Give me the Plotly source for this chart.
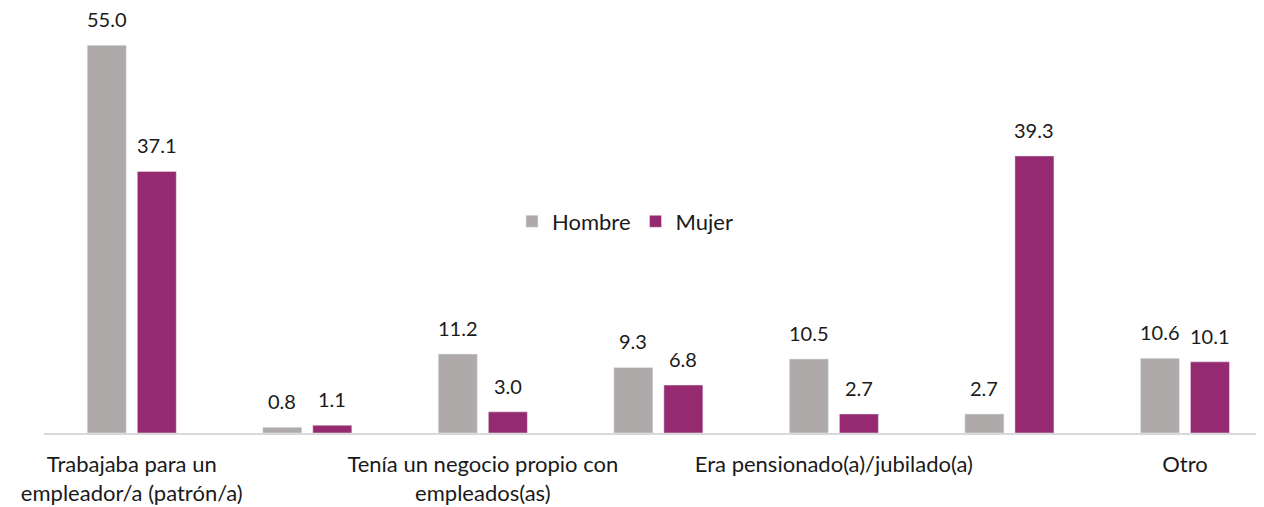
import plotly.graph_objects as go

categories = [
    "Trabajaba para un<br>empleador/a (patrón/a)",
    "Trabajaba sin pago",
    "Tenía un negocio propio con<br>empleados(as)",
    "Trabajaba por su cuenta",
    "Era pensionado(a)/jubilado(a)",
    "Se dedicaba a los quehaceres del hogar",
    "Otro",
]
shown_ticks = [categories[0], categories[2], categories[4], categories[6]]
hombre = [55.0, 0.8, 11.2, 9.3, 10.5, 2.7, 10.6]
mujer = [37.1, 1.1, 3.0, 6.8, 2.7, 39.3, 10.1]

GRAY = "#AEAAAA"
MAG = "#952A70"
FONT = "Lato"
TXT = "#1a1a1a"

fig = go.Figure()
fig.add_trace(go.Bar(name="Hombre", x=categories, y=hombre, marker_color=GRAY))
fig.add_trace(go.Bar(name="Mujer", x=categories, y=mujer, marker_color=MAG))

# value labels above bars
off = 0.1425
for i, c in enumerate(categories):
    for vals, dx in ((hombre, -off), (mujer, off)):
        fig.add_annotation(x=i + dx, y=vals[i], xref="x", yref="y",
                           text=f"{vals[i]:.1f}", showarrow=False,
                           yanchor="bottom", yshift=12,
                           font=dict(family=FONT, size=20, color=TXT))

fig.update_layout(
    width=1254, height=497,
    margin=dict(l=36, r=0, t=2, b=72),
    paper_bgcolor="white", plot_bgcolor="white",
    barmode="group", bargap=0.43, bargroupgap=0.22,
    font=dict(family=FONT, size=22, color=TXT),
    legend=dict(orientation="h", x=0.477, y=0.5, xanchor="center", yanchor="middle",
                font=dict(family=FONT, size=22, color=TXT), itemwidth=30,
                traceorder="normal", bgcolor="rgba(0,0,0,0)"),
    showlegend=True,
)
fig.update_xaxes(showline=True, linecolor="#D9D9D9", linewidth=2,
                 range=[-0.5, 6.439],
                 tickvals=shown_ticks, ticktext=shown_ticks, ticks="",
                 ticklabelstandoff=11,
                 tickfont=dict(family=FONT, size=22, color=TXT),
                 showgrid=False)
fig.update_yaxes(range=[0, 60], visible=False, showgrid=False, zeroline=False)

fig.write_html("out.html")
